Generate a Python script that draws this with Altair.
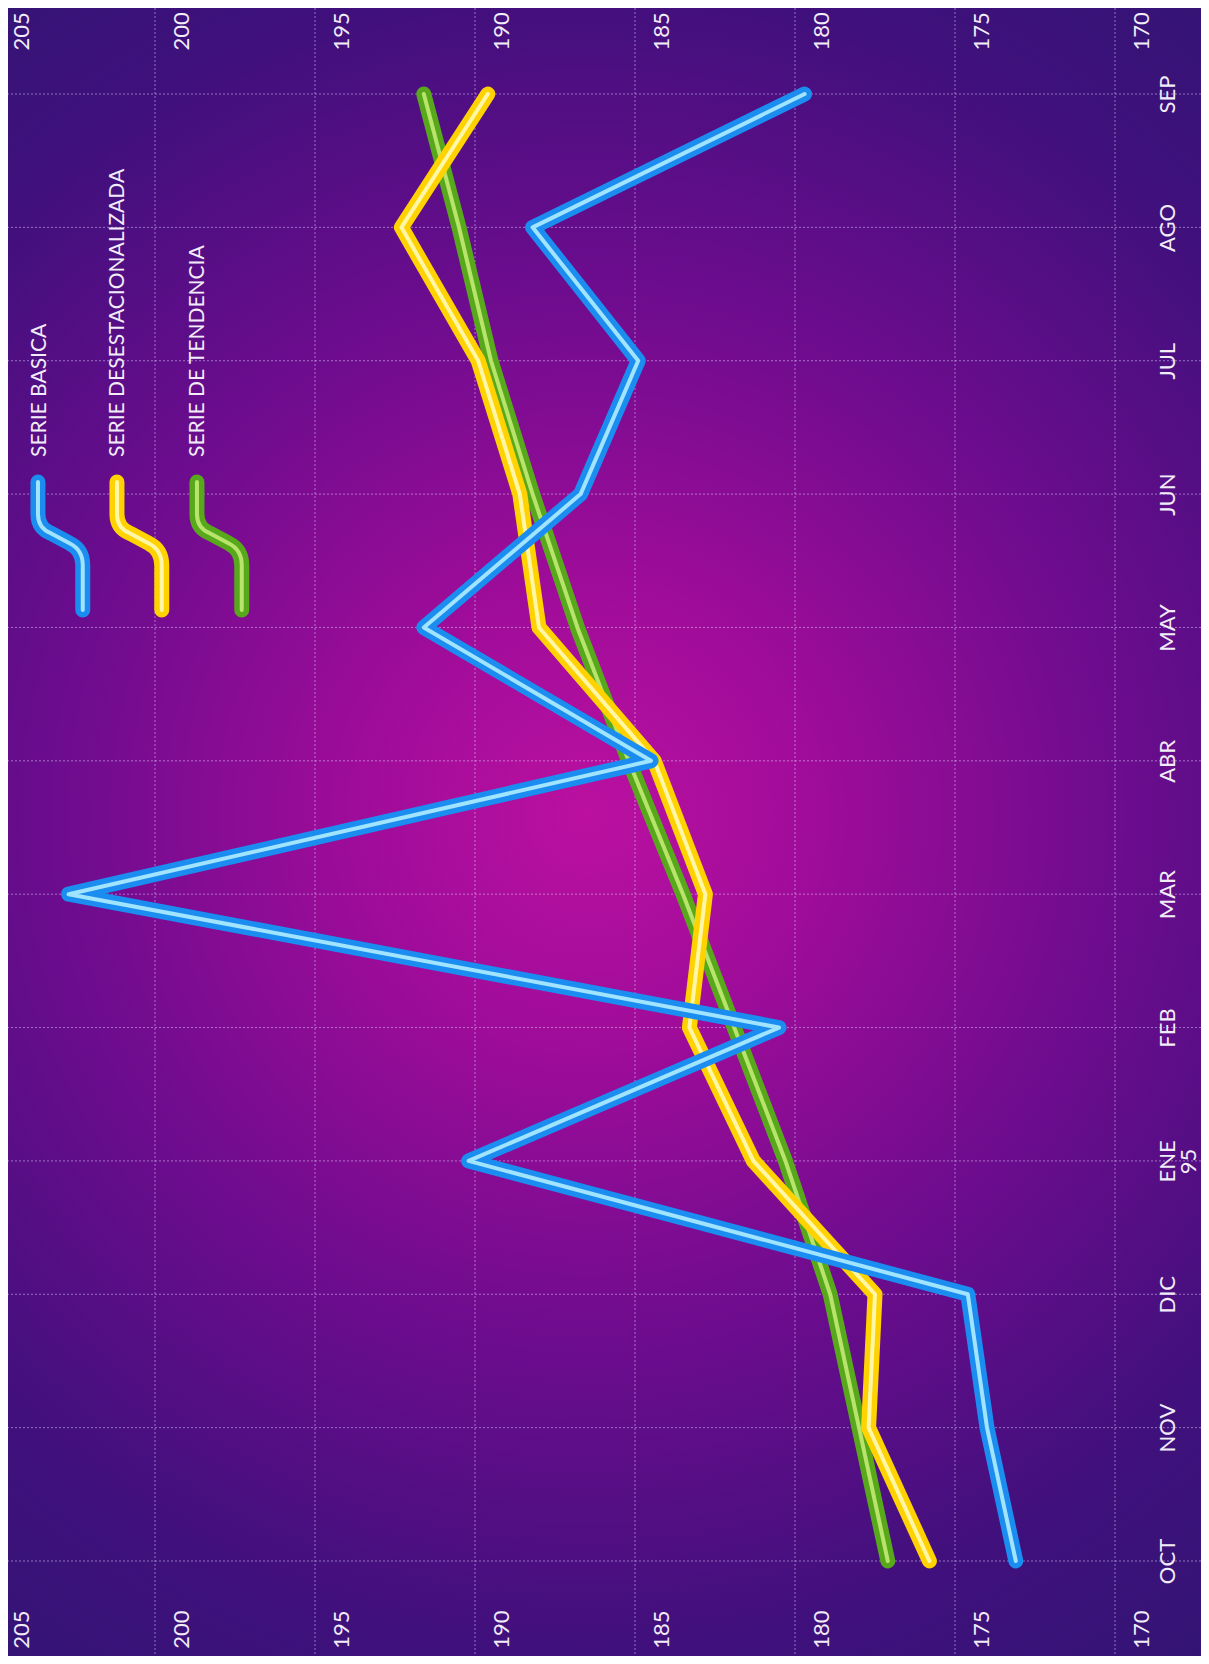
import json
import altair as alt
import pandas as pd

# ---------------- data ----------------
months = ["OCT", "NOV", "DIC", "ENE", "FEB", "MAR", "ABR", "MAY", "JUN", "JUL", "AGO", "SEP"]
month_axis_labels = ["OCT", "NOV", "DIC", ["ENE", "95"], "FEB", "MAR", "ABR", "MAY", "JUN", "JUL", "AGO", "SEP"]
value_ticks = [170, 175, 180, 185, 190, 195, 200, 205]

series_names = ["SERIE BASICA", "SERIE DESESTACIONALIZADA", "SERIE DE TENDENCIA"]
basica = [173.1, 174.0, 174.6, 190.2, 180.5, 202.7, 184.5, 191.6, 186.7, 184.9, 188.2, 179.7]
desestacionalizada = [175.8, 177.7, 177.5, 181.3, 183.3, 182.8, 184.4, 188.0, 188.6, 189.9, 192.3, 189.6]
tendencia = [177.1, 178.0, 178.9, 180.3, 181.9, 183.5, 185.2, 186.8, 188.2, 189.5, 190.5, 191.6]
series_values = [basica, desestacionalizada, tendencia]

# ---------------- styles ----------------
outer_colors = ["#1b8df0", "#ffd200", "#58a81c"]
inner_colors = ["#a0e4ff", "#fff6a6", "#b8e46c"]
LINE_W = 15
INNER_W = 4
FONT = "Lato"
TEXT_COLOR = "#f1ecf8"
GRID_COLOR = "#e6d8ff"

W, H = 1193, 1648
X_RANGE = [1107, -13]      # pixel position of 170 and 205
Y_RANGE = [1553, 86]       # pixel position of OCT and SEP

legend_x_px = [53, 132, 212]
legend_glyph_y_px = 538
legend_text_x_px = [32, 110, 190]
legend_text_y_px = 449
glyph_path = ("M -0.36 -1 L -0.36 -0.5 Q -0.36 -0.28 -0.16 -0.2 "
              "L 0.14 -0.04 Q 0.34 0.06 0.34 0.3 L 0.34 1")

rows = []
for name, vals in zip(series_names, series_values):
    for i, (m, v) in enumerate(zip(months, vals)):
        rows.append({"serie": name, "idx": i, "mes": m, "valor": v})
df = pd.DataFrame(rows)

x_scale = alt.Scale(domain=[170, 205], range=X_RANGE, nice=False, zero=False)
y_scale = alt.Scale(domain=[0, len(months) - 1], range=Y_RANGE, nice=False, zero=False)

common_axis = dict(
    labelFont=FONT, labelFontSize=22, labelColor=TEXT_COLOR, title=None,
    ticks=False, tickSize=0, domain=False, labelPadding=0, grid=False, zindex=1,
    labelFlush=False, labelOverlap=False, labelBound=False,
)

axis_bottom = alt.Axis(
    orient="bottom", values=value_ticks, labelAngle=270, labelAlign="right",
    labelBaseline="middle", labelOffset=26, offset=-46, **common_axis,
)
axis_top = alt.Axis(
    orient="top", values=value_ticks, labelAngle=270, labelAlign="left",
    labelBaseline="middle", labelOffset=26, offset=-42, **common_axis,
)
axis_right = alt.Axis(
    orient="right", values=list(range(len(months))),
    labelExpr=json.dumps(month_axis_labels) + "[datum.value]",
    labelAngle=270, labelAlign="center", labelBaseline="top", labelLineHeight=21,
    offset=-44, **common_axis,
)

gradient = {
    "gradient": "radial",
    "x1": 0.49, "y1": 0.49, "r1": 0,
    "x2": 0.49, "y2": 0.49, "r2": 0.72,
    "stops": [
        {"offset": 0.0, "color": "#bb10a0"},
        {"offset": 0.2, "color": "#9e0c99"},
        {"offset": 0.45, "color": "#6c0c8e"},
        {"offset": 0.7, "color": "#40107c"},
        {"offset": 1.0, "color": "#2a1870"},
    ],
}

one = pd.DataFrame({"k": [0]})
background = alt.Chart(one).mark_rect(fill=gradient, strokeWidth=0).encode(
    x=alt.value(0), x2=alt.value(W), y=alt.value(0), y2=alt.value(H)
)

vgrid = alt.Chart(pd.DataFrame({"v": value_ticks})).mark_rule(
    color=GRID_COLOR, strokeWidth=1, strokeDash=[2, 2], opacity=0.5
).encode(x=alt.X("v:Q", scale=x_scale, axis=None))
hgrid = alt.Chart(pd.DataFrame({"i": list(range(len(months)))})).mark_rule(
    color=GRID_COLOR, strokeWidth=1, strokeDash=[2, 2], opacity=0.5
).encode(y=alt.Y("i:Q", scale=y_scale, axis=None))

axes_layer = alt.Chart(df).mark_point(opacity=0).encode(
    x=alt.X("valor:Q", scale=x_scale, axis=axis_bottom),
    y=alt.Y("idx:Q", scale=y_scale, axis=axis_right),
)
top_axis_layer = alt.Chart(df).mark_point(opacity=0).encode(
    x=alt.X("valor:Q", scale=x_scale, axis=axis_top),
    y=alt.Y("idx:Q", scale=y_scale, axis=None),
)

layers = [background, vgrid, hgrid, axes_layer, top_axis_layer]

# lines: green at bottom, yellow, blue on top
for k in [2, 1, 0]:
    d = df[df["serie"] == series_names[k]]
    for color, w in [(outer_colors[k], LINE_W), (inner_colors[k], INNER_W)]:
        layers.append(
            alt.Chart(d).mark_line(
                color=color, strokeWidth=w, strokeCap="round", strokeJoin="round"
            ).encode(
                x=alt.X("valor:Q", scale=x_scale, axis=None),
                y=alt.Y("idx:Q", scale=y_scale, axis=None),
                order="idx:Q",
            )
        )

# custom legend
for k in range(3):
    for color, w in [(outer_colors[k], LINE_W), (inner_colors[k], INNER_W)]:
        layers.append(
            alt.Chart(one).mark_point(
                shape=glyph_path, size=16384, filled=False, stroke=color,
                strokeWidth=w, strokeCap="round", strokeJoin="round", opacity=1,
            ).encode(x=alt.value(legend_x_px[k]), y=alt.value(legend_glyph_y_px))
        )
    layers.append(
        alt.Chart(one).mark_text(
            text=series_names[k], angle=270, align="left", baseline="middle",
            font=FONT, fontSize=21, color=TEXT_COLOR,
        ).encode(x=alt.value(legend_text_x_px[k]), y=alt.value(legend_text_y_px))
    )

chart = alt.layer(*layers).resolve_axis(x="independent", y="independent").properties(
    width=W, height=H,
    autosize=alt.AutoSizeParams(type="none"),
    padding={"left": 0, "top": 0, "right": 0, "bottom": 0},
    background="#2a1870",
).configure_view(stroke=None)

chart.save("out.html", embed_options={"renderer": "svg", "actions": False})
